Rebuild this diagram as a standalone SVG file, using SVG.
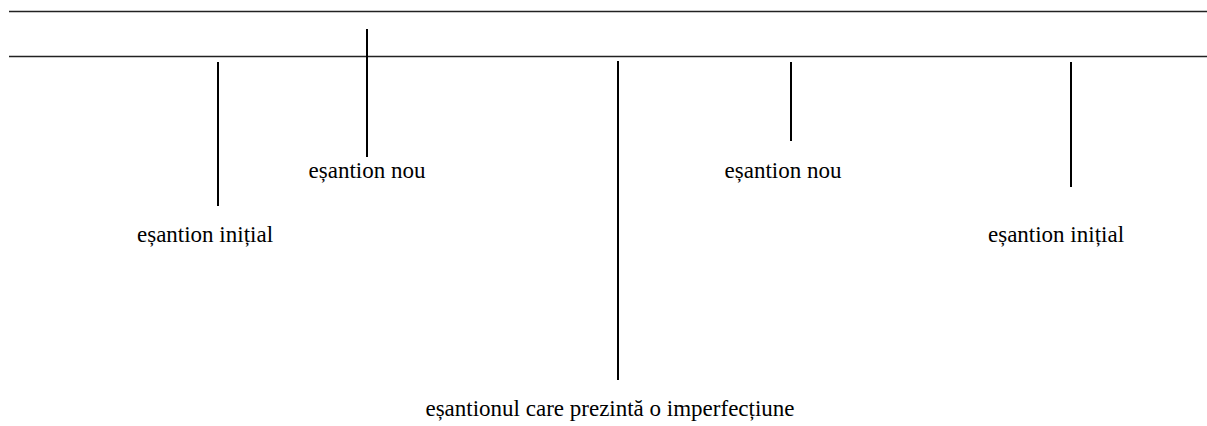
<svg xmlns="http://www.w3.org/2000/svg" width="1207" height="426" viewBox="0 0 1207 426">
<style>
.h{stroke:#222;stroke-width:1.3;fill:none}
.v{stroke:#000;stroke-width:2;fill:none}
text{font-family:'Liberation Serif','Times New Roman','DejaVu Serif',serif;font-size:23px;fill:#000;text-anchor:middle}
</style>
<rect width="1207" height="426" fill="#fff"/>
<g id="connectors">
<line class="h" x1="9" y1="11.5" x2="1207" y2="11.5"/>
<line class="h" x1="9" y1="56.5" x2="1207" y2="56.5" stroke="#444"/>
<line class="v" x1="367" y1="29" x2="367" y2="157"/>
<line class="v" x1="218" y1="62" x2="218" y2="206"/>
<line class="v" x1="618" y1="61" x2="618" y2="380"/>
<line class="v" x1="791" y1="62" x2="791" y2="141"/>
<line class="v" x1="1071" y1="62" x2="1071" y2="187"/>
</g>
<g id="n1"><text x="367" y="178" font-family="Liberation Serif, serif">eșantion nou</text></g>
<g id="n2"><text x="205" y="242" font-family="Liberation Serif, serif">eșantion inițial</text></g>
<g id="n3"><text x="783" y="178" font-family="Liberation Serif, serif">eșantion nou</text></g>
<g id="n4"><text x="1056" y="242" font-family="Liberation Serif, serif">eșantion inițial</text></g>
<g id="n5"><text x="610" y="416" font-family="Liberation Serif, serif">eșantionul care prezintă o imperfecțiune</text></g>
</svg>
